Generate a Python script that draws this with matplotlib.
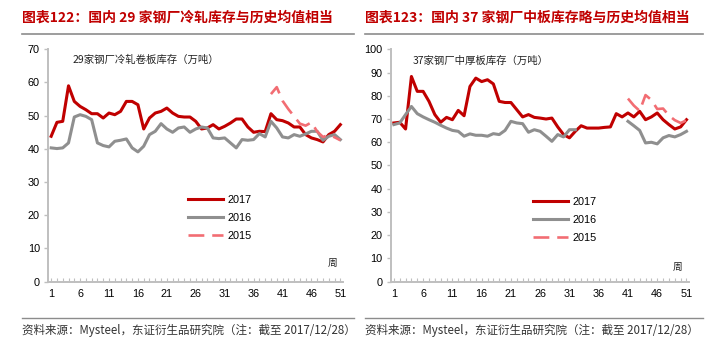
import numpy as np
import matplotlib
matplotlib.use("Agg")
import matplotlib.pyplot as plt
from matplotlib.lines import Line2D

plt.rcParams["font.family"] = ["Liberation Sans", "Noto Sans CJK SC", "DejaVu Sans"]
CJK = ["Noto Sans CJK SC", "DejaVu Sans"]

weeks = np.arange(1, 52)
nan = np.nan

# 29家钢厂冷轧卷板库存（万吨）
cold_2017 = [43.8, 48.0, 48.3, 59.0, 54.3, 52.8, 51.8, 50.6, 50.6, 49.3,
             50.8, 50.3, 51.3, 54.3, 54.3, 53.3, 46.0, 49.3, 50.8, 51.3,
             52.3, 50.8, 49.8, 49.6, 49.6, 48.3, 46.0, 46.3, 47.3, 46.0,
             46.8, 47.8, 49.0, 49.0, 46.6, 45.0, 45.3, 45.2, 50.6, 48.8,
             48.5, 47.8, 46.6, 46.6, 44.3, 43.3, 42.8, 42.1, 44.3, 45.3,
             47.3]
cold_2016 = [40.3, 40.1, 40.3, 41.8, 49.6, 50.3, 49.8, 48.8, 41.8, 41.0,
             40.6, 42.3, 42.6, 43.0, 40.3, 39.1, 40.8, 44.3, 45.3, 47.6,
             46.0, 45.0, 46.3, 46.6, 45.0, 46.0, 46.6, 46.3, 43.3, 43.1,
             43.3, 41.8, 40.3, 42.8, 42.6, 42.8, 44.6, 43.6, 48.3, 46.3,
             43.6, 43.3, 44.3, 43.8, 44.5, 45.3, 45.3, 42.6, 43.8, 44.3,
             42.8]
cold_2015 = [nan] * 38 + [56.5, 58.6, 54.5, 52.0, 49.8, 47.6, 47.0, 48.0,
                          45.2, 43.6, 44.2, 43.5, 42.6]

# 37家钢厂中厚板库存（万吨）
plate_2017 = [68.3, 68.6, 65.7, 88.3, 81.9, 81.9, 77.6, 71.9, 68.6, 70.7,
              69.7, 73.7, 71.4, 84.0, 87.6, 86.1, 86.9, 85.1, 77.6, 77.1,
              77.1, 74.0, 70.9, 71.9, 70.7, 70.4, 70.0, 70.4, 66.6, 63.3,
              61.9, 64.7, 67.1, 66.1, 66.1, 66.1, 66.4, 66.6, 72.3, 70.9,
              72.6, 70.9, 73.3, 69.7, 70.9, 72.6, 69.7, 67.6, 65.7, 66.6,
              69.7]
plate_2016 = [67.6, 68.3, 71.9, 75.4, 72.3, 70.9, 69.7, 68.6, 67.3, 66.1,
              65.1, 64.7, 62.6, 63.6, 63.0, 63.0, 62.6, 63.7, 63.3, 65.1,
              69.0, 68.3, 68.0, 64.3, 65.4, 64.7, 62.6, 60.4, 63.3, 62.3,
              65.4, 65.4, nan, nan, nan, nan, nan, nan, nan, nan,
              69.0, 67.1, 65.1, 59.7, 60.0, 59.3, 61.9, 62.9, 62.3, 63.3,
              64.7]
plate_2015 = [nan] * 40 + [78.8, 75.8, 73.5, 80.3, 78.2, 74.3, 74.5, 71.5,
                           69.5, 68.3, 69.4]

xticks = [1, 6, 11, 16, 21, 26, 31, 36, 41, 46, 51]

RED = "#c00000"
GRAY = "#8f8f8f"
PINK = "#f26d73"
AXIS = "#bfbfbf"

fig = plt.figure(figsize=(7.28, 3.64), dpi=100)


def draw_panel(rect, s2017, s2016, s2015, ymax, note, leg_xy, note_xy, week_xy):
    ax = fig.add_axes(rect)
    ax.plot(weeks, s2017, color=RED, lw=2.2, label="2017", solid_joinstyle="round")
    ax.plot(weeks, s2016, color=GRAY, lw=2.2, label="2016", solid_joinstyle="round")
    ax.plot(weeks, s2015, color=PINK, lw=1.9, dashes=(6, 3), label="2015")
    ax.set_xlim(0.5, 51.5)
    ax.set_ylim(0, ymax)
    ax.set_yticks(np.arange(0, ymax + 1, 10))
    ax.set_xticks(xticks)
    ax.set_xticks(weeks, minor=True)
    for side in ("top", "right"):
        ax.spines[side].set_visible(False)
    for side in ("left", "bottom"):
        ax.spines[side].set_color(AXIS)
        ax.spines[side].set_linewidth(1.4)
    ax.tick_params(axis="y", direction="out", length=3, width=1, color=AXIS,
                   labelsize=7.8, pad=3)
    ax.tick_params(axis="x", which="both", direction="in", length=3, width=0.8,
                   color=AXIS, labelsize=7.8, pad=5)
    ax.text(note_xy[0], note_xy[1], note, transform=ax.transAxes, fontsize=7.5,
            family=CJK, va="center", ha="left", color="#222222")
    ax.text(week_xy[0], week_xy[1], "周", transform=ax.transAxes, fontsize=7,
            family=CJK, va="center", ha="left", color="#222222")
    ax.legend(loc="upper left", bbox_to_anchor=leg_xy, frameon=False,
              borderpad=0, borderaxespad=0, handlelength=3.2,
              handletextpad=0.4, labelspacing=0.75, fontsize=7.8)
    return ax


draw_panel([0.0663, 0.2261, 0.4052, 0.6385], cold_2017, cold_2016, cold_2015, 70,
           "29家钢厂冷轧卷板库存（万吨）", (0.474, 0.375), (0.084, 0.954), (0.948, 0.08))
draw_panel([0.537, 0.2261, 0.410, 0.6385], plate_2017, plate_2016, plate_2015, 100,
           "37家钢厂中厚板库存（万吨）", (0.476, 0.365), (0.074, 0.951), (0.945, 0.065))

# titles, rules and source notes
titles = ["图表122：国内 29 家钢厂冷轧库存与历史均值相当",
          "图表123：国内 37 家钢厂中板库存略与历史均值相当"]
source = "资料来源：Mysteel，东证衍生品研究院（注：截至 2017/12/28）"
for x0, x1, title in [(22, 354, titles[0]), (365, 703, titles[1])]:
    fig.text(x0 / 728, 1 - 18 / 364, title, color=RED, fontsize=10,
             weight="bold", family=CJK, va="center", ha="left")
    fig.add_artist(Line2D([x0 / 728, x1 / 728], [1 - 34 / 364] * 2,
                          color="#8c8c8c", lw=1.2))
    fig.add_artist(Line2D([x0 / 728, x1 / 728], [1 - 318 / 364] * 2,
                          color="#8c8c8c", lw=1.0))
    fig.text(x0 / 728, 1 - 330 / 364, source, fontsize=8.3, family=CJK,
             va="center", ha="left", color="#333333")

fig.savefig("out.png", dpi=100)
